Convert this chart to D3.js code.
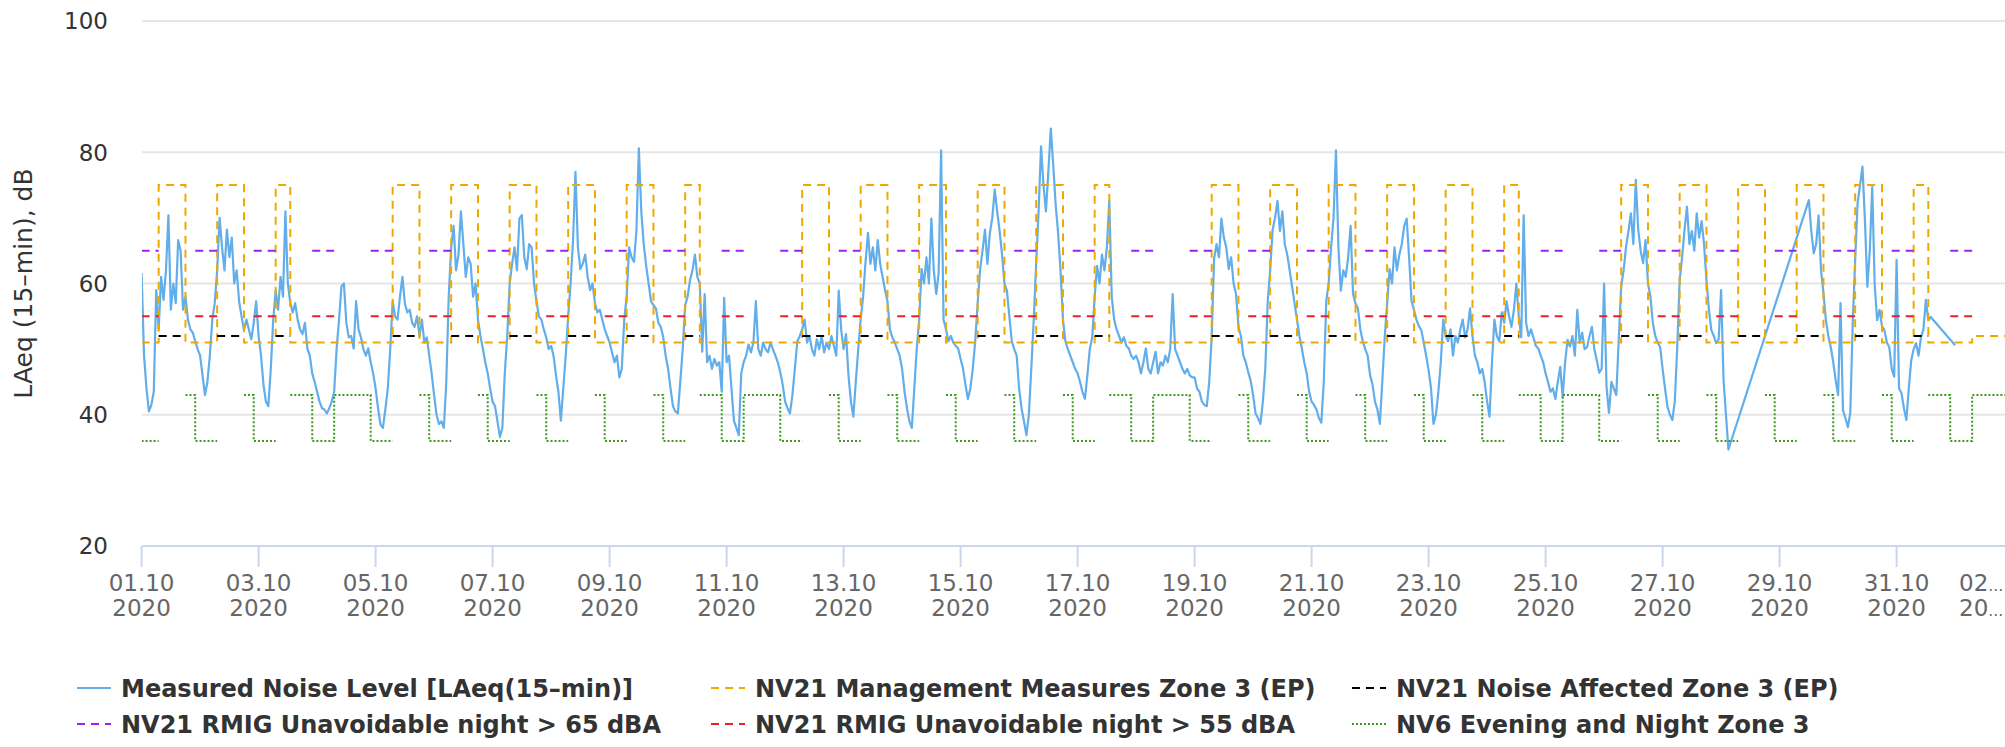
<!DOCTYPE html>
<html><head><meta charset="utf-8">
<script src="https://cdn.jsdelivr.net/npm/d3@7"></script>
<style>
body{margin:0;background:#fff}
svg{display:block}
text{font-family:"DejaVu Sans",sans-serif}
</style>
</head><body>
<svg id="chart" width="2005" height="747"></svg>
<script>
// ---------------- DATA ----------------
// Measured LAeq(15-min), hourly from 01.10.2020 00:00 (one row per day, null = no data)
const noiseByDay = [
 [61.6,49,44,40.5,41.5,43.5,59,53,61,57.5,62,70.4,56,60,57,66.6,65,56,58,54.5,53,52.5,51.2,50],
 [49,46,43,45,49,54.5,57,62,70,65.5,62,68.2,64,67,60,62,57.3,55,52.9,54.5,53,51.5,54,57.3],
 [52,49,44.6,42,41.3,47,54.5,58.9,56,61,58,71,60,57,55.6,57,54.5,53,52.3,54,50.1,49,46.3,45],
 [43.5,42,41,40.8,40.2,41,42,43.5,50,54.5,59.6,60,54,51.8,52,50.1,57.3,53,51.8,50,49,50.1,48,46.3],
 [44,41,38.5,38,40.8,44,50,57.3,55,54.5,58,61,57,55.6,56,54,53.4,55,52,54.5,51,51.8,49,46.3],
 [43,40,38.6,39,38,45,58,65.5,68.8,62,64.4,71,66,61,64,63,58,60,54.5,52,50.1,48,46.3,44],
 [42,41.3,39,36.6,38,46.3,52,60,63,65.5,62,69.9,70.4,64,62.2,66,65.5,60,57.3,55,54.5,53,51.8,50],
 [50.5,49,46,43.5,39.1,44,49,55,60,66.6,77,65.5,62.2,63,64.4,61,59,60,57,55.6,56,54.5,53,52],
 [51,49.5,48,49,45.7,47,54.5,58,65.5,64,63.3,68,80.6,71,66,62.7,60,57.3,56.7,56.2,54,53.4,51.8,49],
 [47,44,41.3,40.5,40.2,45,50,56.7,58,60.5,62,64.4,61,60,49.6,58.4,48,49,47,48.5,47.5,48,43.5,57.8],
 [48,49,44,39.1,38,36.9,46.3,48,49,50.7,49.5,51,57.3,50,49,51,50,49.5,51,50,49,48,46.5,44.6],
 [42,41,40.2,43,47,51.2,52,53,54.5,51,52,50,49,51.5,50,52,49.5,51,50,52,50.5,49,58.9,53],
 [50,52.3,46,42,39.7,45,50,54.5,58,63.3,67.7,63,65.5,62,66.6,63,61,59,57.3,53,51.8,51,50,49],
 [47,43.5,41,39,38,44,50,54.5,62.2,60,64,60,69.9,62,58.4,61.6,80.3,54.5,53,51.2,52,51,50.5,50.1],
 [48.5,47,44.6,42.4,44,47,51.2,57,62.2,65,68.2,63,67.7,70,74.3,71,68,64.4,60,58.9,55,51.2,50,49],
 [44,41,39,36.9,40,47,54.5,63,71,80.9,75,71,77,83.6,78.1,72,67.7,62,54.5,51.2,50,49,48,47],
 [46.3,45,43.5,42.4,46,50,51.8,58,62.7,60,64.4,62,65.5,72.6,58,54.5,53,52,51,51.8,50.5,50.1,49,48.5],
 [49,48,46.3,48,50.1,47,46.3,48,49.6,46.3,48,47.5,49,48,50,58.4,50,49,48,47,46.3,47,46,45.7],
 [45.7,44,43.5,42,41.5,41.3,45,51.8,63.8,66,64,69.9,67,65.5,62.2,64,60,58.4,53.4,52,49,48,46.5,45.2],
 [43,40.2,39.5,38.6,42,47,57.3,62,68.2,70,72.6,68,71,66,64.4,62,59.5,57,54.5,52,50.1,48,46.3,43.5],
 [42,41.5,40.8,39.5,38.8,45,57.3,60,65.5,70,80.3,65.5,58.9,62,61,64,68.8,58.4,57,56.2,53,51.2,50,49],
 [46,44.6,42,40.8,38.6,45,51.8,57,62.2,60,65.5,62,64.4,66,68.8,69.9,64,57.3,56,54.5,53.5,52.9,51,49],
 [46.8,44,38.6,40,43.5,48,54.5,52,51.2,53,49,52,51,53,54.5,51.8,53,56.2,52,49,48,46.3,47,45],
 [42,39.7,48,54.5,52,51.2,55.6,54,57.3,55,53.4,56,60,55,51.8,70.4,54,52,53,51.8,50.5,50.1,49,48],
 [46.3,45,43.5,44,42.4,45,47.3,42.7,48,51.4,50.4,52,49,56,51,52.5,50,50.3,52,53.4,50,48.3,46.4,47],
 [60,44.2,40.3,45,44,43,51.4,59.5,62,65.6,68,70.7,66,75.8,68.2,65,63.1,66.6,60,58,54,52,51,50.3],
 [47,44,41.2,40,39.2,42,50.3,60.5,64,68.2,71.7,66,68,65,70.7,67,69.5,66,60.5,56,52.9,52,50.9,51.5],
 [59,45.3,40,34.7,null,null,null,null,null,null,null,null,null,null,null,null,null,null,null,null,null,null,null,null],
 [null,null,null,null,null,null,null,null,null,null,null,null,72.7,68,64.6,66,70.4,62,58.5,54.4,52,50.3,48,45.3],
 [43,57,40.7,39.5,38.1,40.3,54,63.6,72.3,75,77.8,69.7,59.5,65,74.7,60,54.4,56,53.5,52.9,51,50.3,47,45.8],
 [63.6,44,43.3,41,39.2,44,48.3,50,50.9,49,51.8,53,57.5,54.4,54.9,null,null,null,null,null,null,null,null,null],
 [50.6]
];

// Assessment periods (start hour, period name) by day type
const weekdayPeriods  = [[0,"night"],[7,"day"],[18,"evening"],[22,"night"]];
const saturdayPeriods = [[0,"night"],[7,"day"],[13,"evening"],[22,"night"]];
const sundayPeriods   = [[0,"night"],[7,"evening"],[22,"night"]];

// Criteria levels (dB) per period
const mgmtOctLevels  = {day:75, evening:51, night:51};
const mgmtNovLevels  = {day:75, evening:52, night:51};
const affectedLevels = {day:52};
const rmig65Levels   = {night:65};
const rmig55Levels   = {night:55};
const nv6Levels      = {evening:43, night:36};

const yTicks = [20,40,60,80,100];
const xTickDays = [1,3,5,7,9,11,13,15,17,19,21,23,25,27,29,31,33]; // day of October 2020 (33 = 02.11)

const legendNames = [
  "Measured Noise Level [LAeq(15–min)]",
  "NV21 Management Measures Zone 3 (EP)",
  "NV21 Noise Affected Zone 3 (EP)",
  "NV21 RMIG Unavoidable night > 65 dBA",
  "NV21 RMIG Unavoidable night > 55 dBA",
  "NV6 Evening and Night Zone 3"
];
const seriesColors = ["#62aeea","#f0a800","#000000","#a020f0","#e8202a","#3a9a1c"];
const seriesDash   = [null,"8,6","8,6","8,6","8,6","2,2"];

// ---------------- CHART ----------------
const W = 2005, H = 747;
const pLeft = 142, pRight = 2005, pTop = 21, pBottom = 546;
const svg = d3.select("#chart");
const HOUR = 3600e3;
const t0 = Date.UTC(2020,9,1);

const x = d3.scaleUtc()
  .domain([new Date(t0), new Date(Date.UTC(2020,9,31))])
  .range([141.6, 1896.6]);
const y = d3.scaleLinear().domain([20,100]).range([pBottom, pTop]);

svg.append("defs").append("clipPath").attr("id","plot")
  .append("rect").attr("x",pLeft).attr("y",pTop-6).attr("width",pRight-pLeft).attr("height",pBottom-pTop+12);

// gridlines
svg.append("g").selectAll("line").data(yTicks.filter(v=>v>20)).join("line")
  .attr("x1",pLeft).attr("x2",pRight).attr("y1",d=>y(d)).attr("y2",d=>y(d))
  .attr("stroke","#e6e6e6").attr("stroke-width",2);

// y labels
svg.append("g").selectAll("text").data(yTicks).join("text")
  .attr("x",108).attr("y",d=>y(d)).attr("dy","0.36em")
  .attr("text-anchor","end").attr("font-size",23).attr("fill","#333")
  .text(d=>d);

// y title
svg.append("text")
  .attr("transform",`translate(32,${(pTop+pBottom)/2}) rotate(-90)`)
  .attr("text-anchor","middle").attr("font-size",25).attr("fill","#333")
  .text("LAeq (15–min), dB");

// x axis line + ticks
svg.append("line").attr("x1",pLeft).attr("x2",pRight).attr("y1",pBottom).attr("y2",pBottom)
  .attr("stroke","#ccd6eb").attr("stroke-width",2);
const tickDates = xTickDays.map(d=>new Date(Date.UTC(2020,9,d)));
const fmtDM = d3.utcFormat("%d.%m"), fmtY = d3.utcFormat("%Y");
const xt = svg.append("g");
tickDates.forEach(dt=>{
  const px = x(dt);
  if (px <= W) {
    xt.append("line").attr("x1",px).attr("x2",px).attr("y1",pBottom).attr("y2",567)
      .attr("stroke","#ccd6eb").attr("stroke-width",2);
  }
  const g = xt.append("text").attr("font-size",23).attr("fill","#666");
  if (px + 33 <= W) {
    g.attr("text-anchor","middle");
    g.append("tspan").attr("x",px).attr("y",591).text(fmtDM(dt));
    g.append("tspan").attr("x",px).attr("y",616).text(fmtY(dt));
  } else {
    const sx = 1959;
    g.append("tspan").attr("x",sx).attr("y",591).text(fmtDM(dt).slice(0,2));
    g.append("tspan").attr("font-size",15).text("…");
    g.append("tspan").attr("x",sx).attr("y",616).text(fmtY(dt).slice(0,2));
    g.append("tspan").attr("font-size",15).text("…");
  }
});

// measured noise
const noisePts = [];
noiseByDay.forEach((row,d)=>row.forEach((v,h)=>{
  if (v!=null) noisePts.push({t:new Date(t0 + (d*24+h)*HOUR), v});
}));
const plot = svg.append("g").attr("clip-path","url(#plot)");
plot.append("path")
  .attr("fill","none").attr("stroke",seriesColors[0]).attr("stroke-width",2.2)
  .attr("stroke-linejoin","round")
  .attr("d", d3.line().x(d=>x(d.t)).y(d=>y(d.v))(noisePts));

// criteria step series
function periodsFor(date){
  const wd = date.getUTCDay();
  return wd===0 ? sundayPeriods : wd===6 ? saturdayPeriods : weekdayPeriods;
}
function buildSteps(levelsFor){
  const segs = [];
  for (let d=0; d<33; d++){
    const day = new Date(Date.UTC(2020,9,1+d));
    const per = periodsFor(day);
    const lv = levelsFor(day);
    per.forEach(([h,name],i)=>{
      const eh = i+1<per.length ? per[i+1][0] : 24;
      segs.push({s:new Date(+day + h*HOUR), e:new Date(+day + eh*HOUR), v: lv[name]});
    });
  }
  const pts = [];
  segs.forEach((s,i)=>{
    if (s.v==null) return;
    pts.push({t:s.s, v:s.v});
    const nx = segs[i+1];
    if (!nx || nx.v==null){ pts.push({t:s.e, v:s.v}); pts.push({t:s.e, v:null}); }
  });
  return pts;
}
const stepLine = d3.line().defined(d=>d.v!=null).curve(d3.curveStepAfter).x(d=>x(d.t)).y(d=>y(d.v));
const criteria = [
  day => day.getUTCMonth()===10 ? mgmtNovLevels : mgmtOctLevels,
  () => affectedLevels,
  () => rmig65Levels,
  () => rmig55Levels,
  () => nv6Levels
];
criteria.forEach((fn,i)=>{
  const pts = buildSteps(fn);
  plot.append("path").attr("fill","none")
    .attr("stroke",seriesColors[i+1]).attr("stroke-width",2)
    .attr("stroke-dasharray",seriesDash[i+1])
    .attr("d",stepLine(pts));
});

// legend
const colX = [77, 711, 1352];
const rowY = [688, 724];
legendNames.forEach((name,i)=>{
  const cx = colX[i%3], cy = rowY[Math.floor(i/3)];
  const g = svg.append("g");
  g.append("line").attr("x1",cx).attr("x2",cx+34).attr("y1",cy).attr("y2",cy)
    .attr("stroke",seriesColors[i]).attr("stroke-width",2)
    .attr("stroke-dasharray",seriesDash[i]);
  g.append("text").attr("x",cx+44).attr("y",cy).attr("dy","0.36em")
    .attr("font-size",24).attr("font-weight","bold").attr("fill","#333")
    .text(name);
});
</script>
</body></html>
